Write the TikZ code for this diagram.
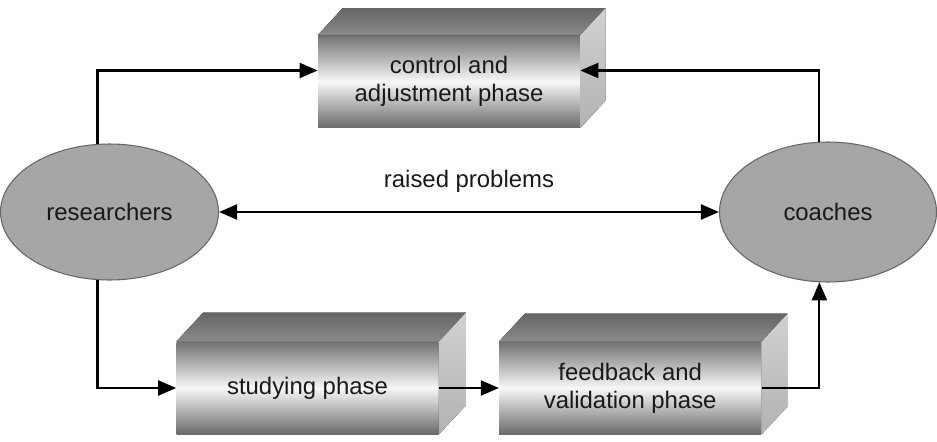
\documentclass[tikz,border=0pt]{standalone}
\usepackage{fontspec}
\setmainfont{Liberation Sans}
\usepackage{tikz}
\usetikzlibrary{positioning}
\usetikzlibrary{arrows.meta, shapes.geometric}

\newcommand{\diagfont}{\fontsize{13.6pt}{16pt}\selectfont}

\tikzset{
  phase/.style={rectangle,minimum width=5.24cm,minimum height=1.84cm,inner sep=0pt,align=center,font=\diagfont,text=black!90,top color=black!55,bottom color=black!58,middle color=black!3},
  phasetop/.style={top color=black!60,bottom color=black!46},
  phaseside/.style={top color=black!18,bottom color=black!30},
  actor/.style={ellipse,draw=black!60,fill=black!35,line width=0.6pt,minimum height=2.72cm,font=\diagfont,text=black!90},
  flow/.style={draw=black,line width=1.2pt,->},
  >={Triangle[length=0.36cm,width=0.3cm]}
}

\begin{document}
\begin{tikzpicture}
\useasboundingbox (0,0) rectangle (18.74,8.82);

\node[actor,minimum width=4.36cm] (researchers) at (2.19,4.58) {researchers};
\node[actor,minimum width=4.34cm,minimum height=2.8cm] (coaches) at (16.56,4.58) {coaches};

\node[phase] (ctrl) at (8.98,7.19) {control and\\adjustment phase};
\fill[phasetop] (ctrl.north west) -- ++(0.5,0.54) -- ([shift={(0.5,0.54)}]ctrl.north east) -- (ctrl.north east) -- cycle;
\fill[phaseside] (ctrl.north east) -- ++(0.5,0.54) -- ([shift={(0.5,0.54)}]ctrl.south east) -- (ctrl.south east) -- cycle;

\node[phase] (study) at (6.15,1.06) {studying phase};
\fill[phasetop] (study.north west) -- ++(0.54,0.58) -- ([shift={(0.54,0.58)}]study.north east) -- (study.north east) -- cycle;
\fill[phaseside] (study.north east) -- ++(0.54,0.58) -- ([shift={(0.54,0.58)}]study.south east) -- (study.south east) -- cycle;

\node[phase,right=1.2cm of study] (feed) {feedback and\\validation phase};
\fill[phasetop] (feed.north west) -- ++(0.52,0.56) -- ([shift={(0.52,0.56)}]feed.north east) -- (feed.north east) -- cycle;
\fill[phaseside] (feed.north east) -- ++(0.52,0.56) -- ([shift={(0.52,0.56)}]feed.south east) -- (feed.south east) -- cycle;

\draw[flow] (researchers.100) |- ([yshift=0.22cm]ctrl.west);
\draw[flow] (coaches.97) |- ([yshift=0.22cm]ctrl.east);
\draw[flow,<->] (researchers.east) -- (coaches.west) node[midway,above=0.36cm,inner sep=0pt,font=\diagfont,text=black!90] (raised) {raised problems};
\draw[flow] (researchers.260) |- (study.west);
\draw[flow] (study.east) -- (feed.west);
\draw[flow] (feed.east) -| (coaches.263);

\end{tikzpicture}
\end{document}
